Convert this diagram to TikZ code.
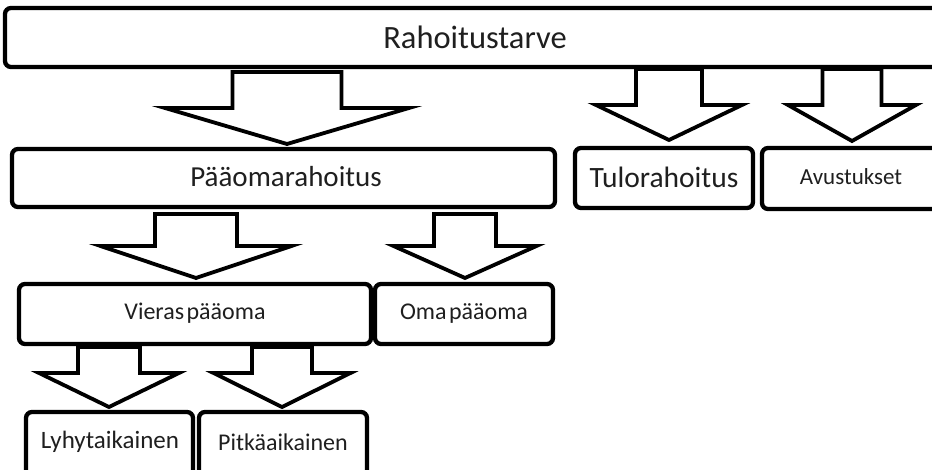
\documentclass[tikz,border=0pt]{standalone}
\usepackage{fontspec}
\setmainfont{Carlito}
\newcommand\blockarrow[6]{% cx, top y, shaft half width, wing y, wing half width, tip y
  \draw[arrowline] (#1-#3,#2) -- (#1+#3,#2) -- (#1+#3,#4) -- (#1+#5,#4) -- (#1,#6)
    -- (#1-#5,#4) -- (#1-#3,#4) -- cycle;}
\begin{document}
\begin{tikzpicture}[x=1pt,y=-1pt,
  box/.style={draw=black, line width=4.3pt, rounded corners=6pt, fill=white},
  arrowline/.style={draw=black, line width=3.8pt, line join=miter, fill=white},
  lbl/.style={inner sep=0pt, text=black!88}]
\useasboundingbox (0,0) rectangle (932,470);
\clip (0,0) rectangle (932,470);
% boxes
\draw[box] (5,8) rectangle (970,67);
\node[lbl, font=\fontsize{32.5}{37}\selectfont] (rahoitus) at (475,37) {Rahoitustarve};
\blockarrow{287}{72}{54.5}{108}{122}{144}
\blockarrow{669}{69}{33}{105}{73}{140}
\blockarrow{852}{69}{29.5}{105}{64}{141}
\draw[box] (12,149) rectangle (555,207);
\node[lbl, font=\fontsize{29}{33}\selectfont] (paaoma) at (286,177) {Pääomarahoitus};
\draw[box] (575,148) rectangle (753,208);
\node[lbl, font=\fontsize{29.5}{33}\selectfont] (tulo) at (664,177) {Tulorahoitus};
\draw[box] (762,148) rectangle (970,209);
\node[lbl, font=\fontsize{23}{27}\selectfont] (avustukset) at (851,177) {Avustukset};
\blockarrow{196}{214}{41}{246}{95.5}{278}
\blockarrow{465}{214}{31}{246}{71.5}{278}
\draw[box] (19,284) rectangle (371,344);
\node[lbl, font=\fontsize{24}{28}\selectfont] (vieras) at (195,313) {\spaceskip=0.1em Vieras pääoma};
\draw[box] (375,284) rectangle (553,344);
\node[lbl, font=\fontsize{24}{28}\selectfont] (oma) at (464,313) {\spaceskip=0.1em Oma pääoma};
\blockarrow{109}{347}{31}{373}{70}{407}
\blockarrow{282}{347}{30}{373}{68.5}{407}
\draw[box] (26,412) rectangle (193,495);
\node[lbl, font=\fontsize{25}{29}\selectfont] (lyhyt) at (110,442) {Lyhytaikainen};
\draw[box] (199,412) rectangle (367,495);
\node[lbl, font=\fontsize{24}{28}\selectfont] (pitka) at (283,442) {Pitkäaikainen};
\end{tikzpicture}
\end{document}
